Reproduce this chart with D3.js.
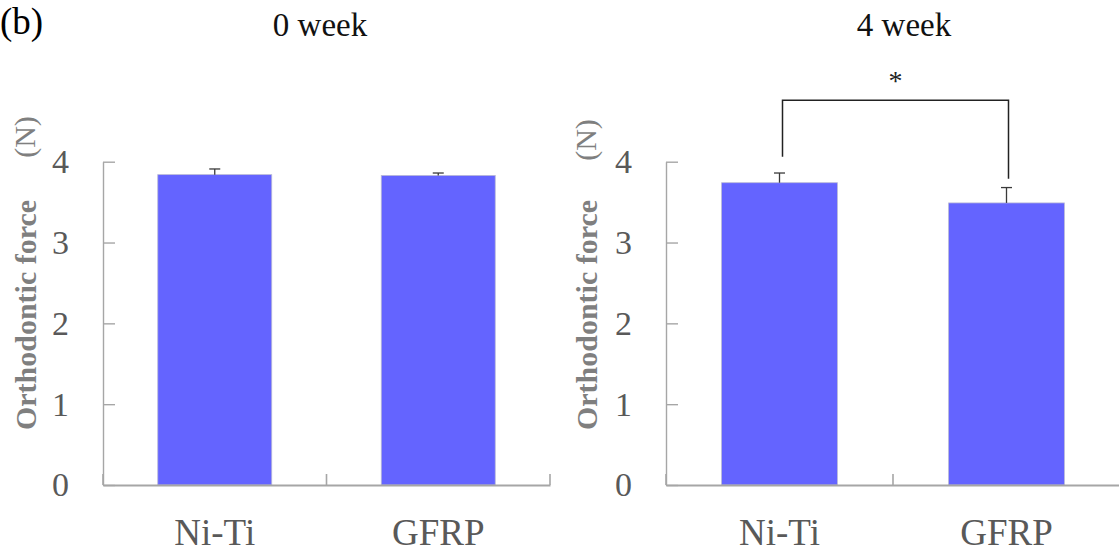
<!DOCTYPE html>
<html><head><meta charset="utf-8">
<script src="https://cdn.jsdelivr.net/npm/d3@7"></script>
<style>
html,body{margin:0;padding:0;background:#fff;}
svg{display:block;font-family:"Liberation Serif","Times New Roman",serif;}
</style></head>
<body><svg id="chart" width="1119" height="552"></svg>
<script>
const categories = ["Ni-Ti", "GFRP"];
const panelTitles = ["0 week", "4 week"];
const week0Means = [3.84, 3.83];
const week0Errors = [0.07, 0.03];
const week4Means = [3.74, 3.49];
const week4Errors = [0.12, 0.19];
const yTicks = [0, 1, 2, 3, 4];
const yLabel = "Orthodontic force";
const yUnit = "(N)";
const panelTag = "(b)";
const sigMark = "*";
const bracketValues = [4.76, 4.06, 3.79]; // top, left leg end, right leg end (week 4)

const serif = '"Liberation Serif","Times New Roman",serif';
const svg = d3.select("#chart");
const y = d3.scaleLinear().domain([0, 4]).range([485, 161.7]);

const panels = [
  {means: week0Means, errs: week0Errors, x0: 103, x1: 550, title: panelTitles[0], tx: 320, labelX: 25, unitY: 137},
  {means: week4Means, errs: week4Errors, x0: 666, x1: 1120, title: panelTitles[1], tx: 904, labelX: 586, unitY: 140}
];

svg.append("text").attr("x", 0).attr("y", 34).attr("font-size", 37)
  .attr("font-family", serif).attr("fill", "#000").text(panelTag);

panels.forEach((p, pi) => {
  const x = d3.scaleBand().domain(categories).range([p.x0, p.x1]).paddingInner(0.49).paddingOuter(0.245);
  const g = svg.append("g");

  // bars
  g.selectAll("rect.bar").data(categories).join("rect")
    .attr("class", "bar")
    .attr("x", d => x(d)).attr("width", x.bandwidth())
    .attr("y", (d, i) => y(p.means[i]))
    .attr("height", (d, i) => y(0) - y(p.means[i]))
    .attr("fill", "#6464ff")
    .attr("stroke", "#b9b9d6").attr("stroke-width", 0.8);

  // error bars
  categories.forEach((c, i) => {
    const cx = x(c) + x.bandwidth() / 2;
    g.append("line").attr("x1", cx).attr("x2", cx)
      .attr("y1", y(p.means[i])).attr("y2", y(p.means[i] + p.errs[i]))
      .attr("stroke", "#3a3a3a").attr("stroke-width", 1.3);
    g.append("line").attr("x1", cx - 5.5).attr("x2", cx + 5.5)
      .attr("y1", y(p.means[i] + p.errs[i])).attr("y2", y(p.means[i] + p.errs[i]))
      .attr("stroke", "#3a3a3a").attr("stroke-width", 1.3);
  });

  // y axis
  const yAxis = d3.axisLeft(y).tickValues(yTicks).tickSize(-12).tickSizeOuter(0).tickPadding(34).tickFormat(d3.format("d"));
  const ya = g.append("g").attr("transform", `translate(${p.x0},0)`).call(yAxis);
  ya.select(".domain").attr("stroke", "#a6a6a6").attr("stroke-width", 1.4);
  ya.selectAll(".tick line").attr("stroke", "#a6a6a6").attr("stroke-width", 1.4);
  ya.selectAll(".tick text").attr("font-size", 34).attr("fill", "#595959").attr("font-family", serif);

  // x axis
  const xAxis = d3.axisBottom(x).tickSize(0).tickPadding(34);
  const xa = g.append("g").attr("transform", `translate(0,${y(0)})`).call(xAxis);
  xa.select(".domain").attr("stroke", "#a6a6a6").attr("stroke-width", 2);
  xa.selectAll(".tick text").attr("font-size", 37).attr("fill", "#595959").attr("font-family", serif);
  const bounds = d3.range(categories.length + 1).map(k => x.range()[0] + k * x.step());
  g.selectAll("line.xt").data(bounds).join("line").attr("class", "xt")
    .attr("x1", d => d).attr("x2", d => d).attr("y1", y(0)).attr("y2", y(0) - 11)
    .attr("stroke", "#a6a6a6").attr("stroke-width", 1.6);

  // title
  g.append("text").attr("x", p.tx).attr("y", 36).attr("text-anchor", "middle")
    .attr("font-size", 33).attr("font-family", serif).attr("fill", "#111").text(p.title);

  // y label
  g.append("text").attr("transform", `translate(${p.labelX},315) rotate(-90)`)
    .attr("text-anchor", "middle").attr("dy", "0.35em")
    .attr("font-size", 30).attr("font-weight", "bold").attr("font-family", serif)
    .attr("fill", "#7f7f7f").text(yLabel);
  g.append("text").attr("transform", `translate(${p.labelX - 1},${p.unitY}) rotate(-90)`)
    .attr("text-anchor", "middle").attr("dy", "0.35em")
    .attr("font-size", 30).attr("font-family", serif).attr("fill", "#7f7f7f").text(yUnit);

  // significance bracket (week 4)
  if (pi === 1) {
    const lx = x(categories[0]) + x.bandwidth() / 2 + 3;
    const rx = x(categories[1]) + x.bandwidth() / 2 + 2;
    g.append("path")
      .attr("d", `M${lx},${y(bracketValues[1])}V${y(bracketValues[0])}H${rx}V${y(bracketValues[2])}`)
      .attr("fill", "none").attr("stroke", "#222").attr("stroke-width", 1.5);
    g.append("text").attr("x", (lx + rx) / 2).attr("y", 90).attr("text-anchor", "middle")
      .attr("font-size", 28).attr("font-family", serif).attr("fill", "#222").text(sigMark);
  }
});
</script></body></html>
